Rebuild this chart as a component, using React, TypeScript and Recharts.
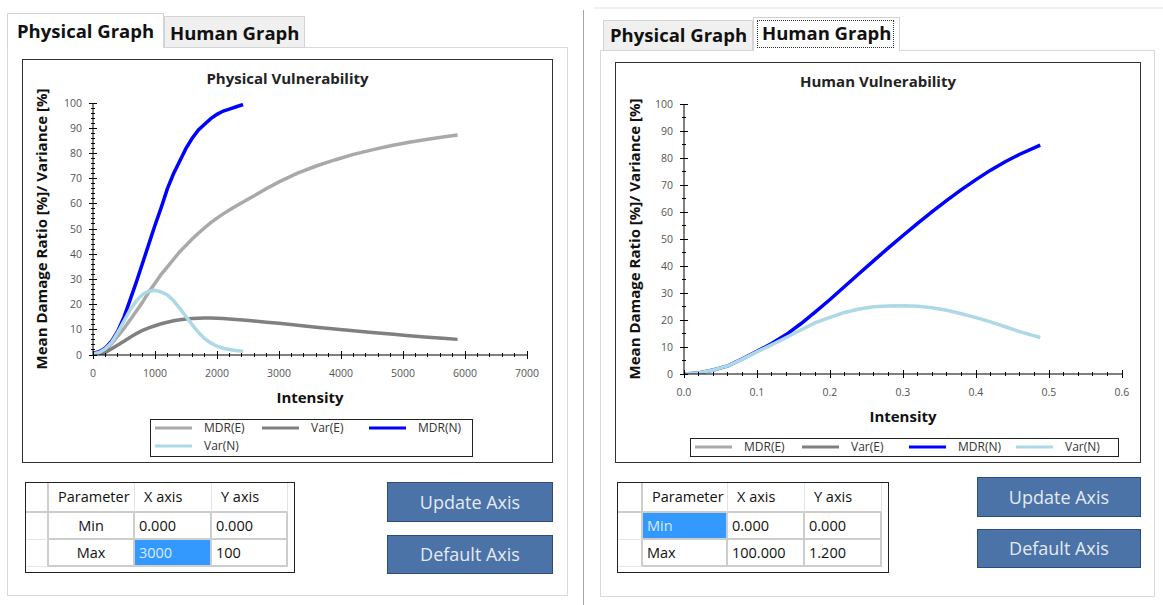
import React from "react";
import { LineChart, Line, XAxis, YAxis, Legend } from "recharts";

// values (intensity on x, percent on y)
const physIntensity = [
  0, 100, 200, 300, 400, 500, 600, 700, 800, 900, 1000, 1100, 1200, 1300, 1400, 1500, 1600, 1700, 1800,
  1900, 2000, 2100, 2200, 2300, 2420, 2600, 2800, 3000, 3300, 3600, 3900, 4200, 4500, 4800, 5100, 5400,
  5700, 5880,
];
const physMdrE = [
  null, 0, 2, 4.5, 7.5, 10.5, 14, 17.5, 21, 25, 28.5, 32, 35, 38, 41, 43.5, 46, 48.3, 50.5, 52.5, 54.3, 56,
  57.5, 59, 60.7, 63.2, 66.1, 68.7, 72.2, 75, 77.4, 79.6, 81.4, 83, 84.4, 85.6, 86.7, 87.3,
];
const physVarE = [
  null, 0, 1, 2.5, 4, 5.5, 7, 8.5, 9.8, 10.8, 11.6, 12.4, 13, 13.6, 14, 14.3, 14.5, 14.6, 14.7, 14.7, 14.6,
  14.5, 14.3, 14.1, 13.9, 13.5, 13, 12.6, 11.8, 11, 10.3, 9.6, 8.95, 8.3, 7.6, 7.05, 6.55, 6.2,
];
const physMdrN = [
  0.7, 1.3, 2.8, 5.5, 9.5, 15, 22, 29, 36.5, 44, 51.5, 58.5, 66, 72, 77, 82, 86, 89.3, 91.6, 93.8, 95.5,
  96.8, 97.6, 98.4, 99.4, null, null, null, null, null, null, null, null, null, null, null, null, null,
];
const physVarN = [
  0.5, 1, 2.5, 5, 9, 13.5, 18, 21.5, 24, 25.3, 25.7, 25, 23.8, 21.5, 18.5, 15.3, 12, 9, 6.5, 4.8, 3.5, 2.7,
  2.2, 1.8, 1.5, null, null, null, null, null, null, null, null, null, null, null, null, null,
];

const humanIntensity = [
  0, 0.02, 0.04, 0.06, 0.08, 0.1, 0.12, 0.14, 0.16, 0.18, 0.2, 0.22, 0.24, 0.26, 0.28, 0.3, 0.32, 0.34,
  0.36, 0.38, 0.4, 0.42, 0.44, 0.46, 0.488,
];
const humanMdrN = [
  0, 0.4, 1.5, 3, 5.6, 8.4, 11.3, 14.6, 18.6, 23, 27.6, 32.4, 37.2, 42, 46.7, 51.3, 55.8, 60.1, 64.3, 68.3,
  72, 75.5, 78.6, 81.4, 84.8,
];
const humanVarN = [
  0, 0.4, 1.5, 3, 5.5, 8.2, 10.8, 13.5, 16.3, 19, 21, 22.8, 24.1, 24.9, 25.2, 25.3, 25.1, 24.5, 23.6, 22.3,
  20.9, 19.3, 17.5, 15.7, 13.5,
];

// tick labels
const physXLabels = [0, 1000, 2000, 3000, 4000, 5000, 6000, 7000];
const humanXLabels = [0, 0.1, 0.2, 0.3, 0.4, 0.5, 0.6];
const yLabels = [0, 10, 20, 30, 40, 50, 60, 70, 80, 90, 100];

// minor tick positions
const physXMinor = Array.from({ length: 36 }, (_, i) => i * 200);
const physYMinor = Array.from({ length: 51 }, (_, i) => i * 2);
const humanXMinor = Array.from({ length: 31 }, (_, i) => (i * 2) / 100);
const humanYMinor = Array.from({ length: 21 }, (_, i) => i * 5);

const SERIES = [
  { key: "mdrE", name: "MDR(E)", color: "#a9a9a9" },
  { key: "varE", name: "Var(E)", color: "#808080" },
  { key: "mdrN", name: "MDR(N)", color: "#0000ff" },
  { key: "varN", name: "Var(N)", color: "#add8e6" },
];

const physRows = physIntensity.map((x, i) => ({
  x,
  mdrE: physMdrE[i],
  varE: physVarE[i],
  mdrN: physMdrN[i],
  varN: physVarN[i],
}));
const humanRows = humanIntensity.map((x, i) => ({ x, mdrN: humanMdrN[i], varN: humanVarN[i] }));

const FONT = '"Open Sans", "Noto Sans", sans-serif';
const near = (list: number[], v: number) => list.some((m) => Math.abs(m - v) < 1e-6);

function BottomTick({ x, y, payload, majors, fmt }: any) {
  const major = near(majors, payload.value);
  const len = major ? 4 : 2;
  return (
    <g>
      <line x1={x} x2={x} y1={y - len} y2={y + len} stroke="#000" shapeRendering="crispEdges" />
      {major && (
        <text x={x} y={y + 18} dy="0.35em" textAnchor="middle" fill="#555" fontSize={10.5} fontFamily={FONT}>
          {fmt(payload.value)}
        </text>
      )}
    </g>
  );
}

function LeftTick({ x, y, payload, majors }: any) {
  const major = near(majors, payload.value);
  const len = major ? 4 : 2;
  return (
    <g>
      <line x1={x - len} x2={x + len} y1={y} y2={y} stroke="#000" shapeRendering="crispEdges" />
      {major && (
        <text x={x - 11} y={y} dy="0.35em" textAnchor="end" fill="#555" fontSize={10.5} fontFamily={FONT}>
          {payload.value}
        </text>
      )}
    </g>
  );
}

function TopTick({ x, y, payload, majors }: any) {
  const len = near(majors, payload.value) ? 4 : 2.5;
  return <line x1={x} x2={x} y1={y} y2={y + len} stroke="#000" shapeRendering="crispEdges" />;
}

function RightTick({ x, y, payload, majors }: any) {
  const len = near(majors, payload.value) ? 4 : 2.5;
  return <line x1={x - len} x2={x} y1={y} y2={y} stroke="#000" shapeRendering="crispEdges" />;
}

// legend keeps the series order (Recharts sorts its payload by name)
function LegendBox({ payload, width, height, perRow }: any) {
  const items = SERIES.map((s) => {
    const hit = (payload || []).find((it: any) => it.value === s.name);
    return { value: s.name, color: hit ? hit.color : s.color };
  });
  return (
    <div
      style={{
        position: "relative",
        width,
        height,
        boxSizing: "border-box",
        border: "1px solid #222",
        background: "#fff",
        fontFamily: FONT,
      }}
    >
      {items.map((it, i) => {
        const col = i % perRow;
        const row = Math.floor(i / perRow);
        const cy = 8 + row * 18;
        return (
          <div key={i} style={{ position: "absolute", left: 4 + col * 107, top: cy - 8, height: 16, width: 105 }}>
            <svg width={38} height={16} style={{ position: "absolute", left: 0, top: 0 }}>
              <line x1={0} x2={37} y1={8} y2={8} stroke={it.color} strokeWidth={3} />
            </svg>
            <span
              style={{
                position: "absolute",
                left: 49,
                top: 0,
                lineHeight: "16px",
                fontSize: 12,
                color: "#333",
                whiteSpace: "nowrap",
              }}
            >
              {it.value}
            </span>
          </div>
        );
      })}
    </div>
  );
}

type ChartProps = {
  box: [number, number, number, number]; // left, top, width, height
  plot: [number, number, number, number]; // left, top, right, bottom (page px)
  title: string;
  titleY: number;
  rows: any[];
  xMax: number;
  xMajor: number[];
  xMinor: number[];
  yMinor: number[];
  fmt: (v: number) => string;
  legend: { x: number; y: number; w: number; h: number; perRow: number };
};

function VulnChart(p: ChartProps) {
  const [left, top, width, height] = p.box;
  const W = width - 2;
  const H = height - 2;
  const ox = left + 1;
  const oy = top + 1;
  const yw = p.plot[0] - ox;
  const mt = p.plot[1] - oy;
  const mr = ox + W - p.plot[2];
  const xh = oy + H - p.plot[3];
  const plotCx = yw + (p.plot[2] - p.plot[0]) / 2;
  const plotCy = mt + (p.plot[3] - p.plot[1]) / 2;
  const plotB = p.plot[3] - oy;

  return (
    <div
      style={{
        position: "absolute",
        left,
        top,
        width,
        height,
        boxSizing: "border-box",
        border: "1px solid #333",
        background: "#fff",
      }}
    >
      <LineChart width={W} height={H} data={p.rows} margin={{ top: mt, right: mr, bottom: 0, left: 0 }}>
        <XAxis
          dataKey="x"
          type="number"
          domain={[0, p.xMax]}
          allowDataOverflow
          ticks={p.xMinor}
          interval={0}
          height={xh}
          tickSize={0}
          tickMargin={0}
          tickLine={false}
          axisLine={{ stroke: "#000" }}
          tick={(t: any) => <BottomTick {...t} majors={p.xMajor} fmt={p.fmt} />}
          label={{
            content: () => (
              <text
                x={plotCx}
                y={plotB + 43}
                dy="0.35em"
                textAnchor="middle"
                fontFamily={FONT}
                fontWeight="bold"
                fontSize={15}
                fill="#111"
              >
                Intensity
              </text>
            ),
          }}
        />
        <XAxis
          xAxisId="top"
          orientation="top"
          type="number"
          domain={[0, p.xMax]}
          allowDataOverflow
          ticks={p.xMinor}
          interval={0}
          height={0}
          tickSize={0}
          tickMargin={0}
          tickLine={false}
          axisLine={{ stroke: "#000" }}
          tick={(t: any) => <TopTick {...t} majors={p.xMajor} />}
        />
        <YAxis
          type="number"
          domain={[0, 100]}
          allowDataOverflow
          ticks={p.yMinor}
          interval={0}
          width={yw}
          tickSize={0}
          tickMargin={0}
          tickLine={false}
          axisLine={{ stroke: "#000" }}
          tick={(t: any) => <LeftTick {...t} majors={yLabels} />}
          label={{
            content: () => (
              <text
                x={19}
                y={plotCy}
                dy="0.35em"
                transform={`rotate(-90 19 ${plotCy})`}
                textAnchor="middle"
                fontFamily={FONT}
                fontWeight="bold"
                fontSize={15}
                fill="#111"
              >
                Mean Damage Ratio [%]/ Variance [%]
              </text>
            ),
          }}
        />
        <YAxis
          yAxisId="right"
          orientation="right"
          type="number"
          domain={[0, 100]}
          allowDataOverflow
          ticks={p.yMinor}
          interval={0}
          width={0}
          tickSize={0}
          tickMargin={0}
          tickLine={false}
          axisLine={{ stroke: "#000" }}
          tick={(t: any) => <RightTick {...t} majors={yLabels} />}
        />
        <Legend
          content={(lp: any) => (
            <LegendBox payload={lp.payload} width={p.legend.w} height={p.legend.h} perRow={p.legend.perRow} />
          )}
          wrapperStyle={{ left: p.legend.x - ox, top: p.legend.y - oy, width: p.legend.w, height: 0 }}
        />
        {SERIES.map((s) => (
          <Line
            key={s.key}
            type="linear"
            dataKey={s.key}
            name={s.name}
            stroke={s.color}
            strokeWidth={3.5}
            dot={false}
            activeDot={false}
            legendType="line"
            isAnimationActive={false}
          />
        ))}
      </LineChart>
      <div
        style={{
          position: "absolute",
          left: 0,
          right: 0,
          top: p.titleY - top - 1 - 10,
          lineHeight: "20px",
          textAlign: "center",
          fontFamily: FONT,
          fontWeight: "bold",
          fontSize: 15,
          color: "#222",
        }}
      >
        {p.title}
      </div>
    </div>
  );
}

function Tab({ left, top, width, height, label, active, textLeft, textCy, focus }: any) {
  return (
    <div
      style={{
        position: "absolute",
        left,
        top,
        width,
        height,
        boxSizing: "border-box",
        border: "1px solid #d4d4d4",
        borderBottom: active ? "none" : "1px solid #d4d4d4",
        background: active ? "#fff" : "#f0f0f0",
        zIndex: active ? 2 : 1,
      }}
    >
      {focus && (
        <div
          style={{
            position: "absolute",
            left: 3,
            top: 2,
            width: width - 10,
            height: height - 6,
            boxSizing: "border-box",
            border: "1px dotted #333",
          }}
        />
      )}
      <div
        style={{
          position: "absolute",
          left: textLeft - left - 1,
          top: textCy - top - 1 - 13,
          lineHeight: "26px",
          fontFamily: FONT,
          fontWeight: "bold",
          fontSize: 18.5,
          color: "#111",
          whiteSpace: "nowrap",
        }}
      >
        {label}
      </div>
    </div>
  );
}

function Panel({ left, top, width, height }: any) {
  return (
    <div
      style={{
        position: "absolute",
        left,
        top,
        width,
        height,
        boxSizing: "border-box",
        border: "1px solid #d9d9d9",
        background: "#fff",
      }}
    />
  );
}

function Button({ left, top, width, height, label }: any) {
  return (
    <div
      style={{
        position: "absolute",
        left,
        top,
        width,
        height,
        boxSizing: "border-box",
        border: "1px solid #2e4c7a",
        background: "#4b73a8",
        color: "#e4eaf3",
        fontFamily: FONT,
        fontSize: 18,
        lineHeight: `${height - 2}px`,
        textAlign: "center",
      }}
    >
      {label}
    </div>
  );
}

function AxisTable({ left, top, cols, rowsH, cells, selected, centerParam }: any) {
  const width = 1 + cols.reduce((a: number, b: number) => a + b, 0) + 7;
  const height = 1 + rowsH.reduce((a: number, b: number) => a + b, 0) + 6;
  const xs = [0];
  cols.forEach((c: number) => xs.push(xs[xs.length - 1] + c));
  const ys = [0];
  rowsH.forEach((r: number) => ys.push(ys[ys.length - 1] + r));
  const out: any[] = [];
  cells.forEach((row: string[], r: number) => {
    row.forEach((txt: string, c: number) => {
      const header = r === 0;
      const sel = selected && selected[0] === r && selected[1] === c;
      const rowHead = c === 0;
      out.push(
        <div
          key={`${r}-${c}`}
          style={{
            position: "absolute",
            left: xs[c],
            top: ys[r],
            width: cols[c],
            height: rowsH[r],
            boxSizing: "border-box",
            borderRight: rowHead ? "2px solid #cdcdcd" : header ? "1px solid #e4e4e4" : "2px solid #cdcdcd",
            borderBottom: rowHead && !header ? "1px solid #e6e6e6" : "2px solid #cdcdcd",
            background: sel ? "#3399ff" : "#fff",
            color: sel ? "#d9eaff" : "#111",
            fontFamily: FONT,
            fontSize: 14.5,
            lineHeight: `${rowsH[r] - 2}px`,
            paddingLeft: header ? 9 : c === 1 && centerParam ? 0 : 4,
            textAlign: c === 1 && centerParam && !header ? "center" : "left",
            whiteSpace: "nowrap",
          }}
        >
          {txt}
        </div>
      );
    });
  });
  return (
    <div
      style={{
        position: "absolute",
        left,
        top,
        width,
        height,
        boxSizing: "border-box",
        border: "1px solid #222",
        background: "#fff",
      }}
    >
      {out}
    </div>
  );
}

const fmtInt = (v: number) => String(Math.round(v));
const fmtOne = (v: number) => v.toFixed(1);

export default function App() {
  return (
    <div
      style={{
        position: "absolute",
        left: 0,
        top: 0,
        width: 1163,
        height: 605,
        background: "#fff",
        overflow: "hidden",
        fontFamily: FONT,
      }}
    >
      {/* left window: physical */}
      <Panel left={7} top={47} width={561} height={549} />
      <Tab left={7} top={13} width={157} height={35} label="Physical Graph" active textLeft={17} textCy={31} />
      <Tab left={164} top={16} width={141} height={32} label="Human Graph" textLeft={170} textCy={33} />
      <VulnChart
        box={[22, 59, 531, 404]}
        plot={[93, 103, 527, 355]}
        title="Physical Vulnerability"
        titleY={78}
        rows={physRows}
        xMax={7000}
        xMajor={physXLabels}
        xMinor={physXMinor}
        yMinor={physYMinor}
        fmt={fmtInt}
        legend={{ x: 150, y: 419, w: 323, h: 38, perRow: 3 }}
      />
      <AxisTable
        left={25}
        top={482}
        cols={[23, 86, 77, 76]}
        rowsH={[30, 27, 27]}
        cells={[
          ["", "Parameter", "X axis", "Y axis"],
          ["", "Min", "0.000", "0.000"],
          ["", "Max", "3000", "100"],
        ]}
        selected={[2, 2]}
        centerParam
      />
      <Button left={387} top={482} width={166} height={40} label="Update Axis" />
      <Button left={387} top={535} width={166} height={39} label="Default Axis" />

      {/* separator */}
      <div style={{ position: "absolute", left: 583, top: 10, width: 1, height: 595, background: "#a8a8a8" }} />
      <div style={{ position: "absolute", left: 594, top: 7, width: 569, height: 2, background: "#f0f0f0" }} />

      {/* right window: human */}
      <Panel left={600} top={50} width={555} height={547} />
      <Tab left={603} top={20} width={150} height={31} label="Physical Graph" textLeft={610} textCy={35} />
      <Tab left={753} top={17} width={147} height={34} label="Human Graph" active focus textLeft={762} textCy={33} />
      <VulnChart
        box={[615, 62, 526, 401]}
        plot={[684, 104, 1122, 374]}
        title="Human Vulnerability"
        titleY={81}
        rows={humanRows}
        xMax={0.6}
        xMajor={humanXLabels}
        xMinor={humanXMinor}
        yMinor={humanYMinor}
        fmt={fmtOne}
        legend={{ x: 690, y: 438, w: 429, h: 19, perRow: 4 }}
      />
      <AxisTable
        left={617}
        top={482}
        cols={[25, 85, 77, 77]}
        rowsH={[30, 27, 27]}
        cells={[
          ["", "Parameter", "X axis", "Y axis"],
          ["", "Min", "0.000", "0.000"],
          ["", "Max", "100.000", "1.200"],
        ]}
        selected={[1, 1]}
      />
      <Button left={977} top={477} width={164} height={40} label="Update Axis" />
      <Button left={977} top={529} width={164} height={39} label="Default Axis" />
    </div>
  );
}
